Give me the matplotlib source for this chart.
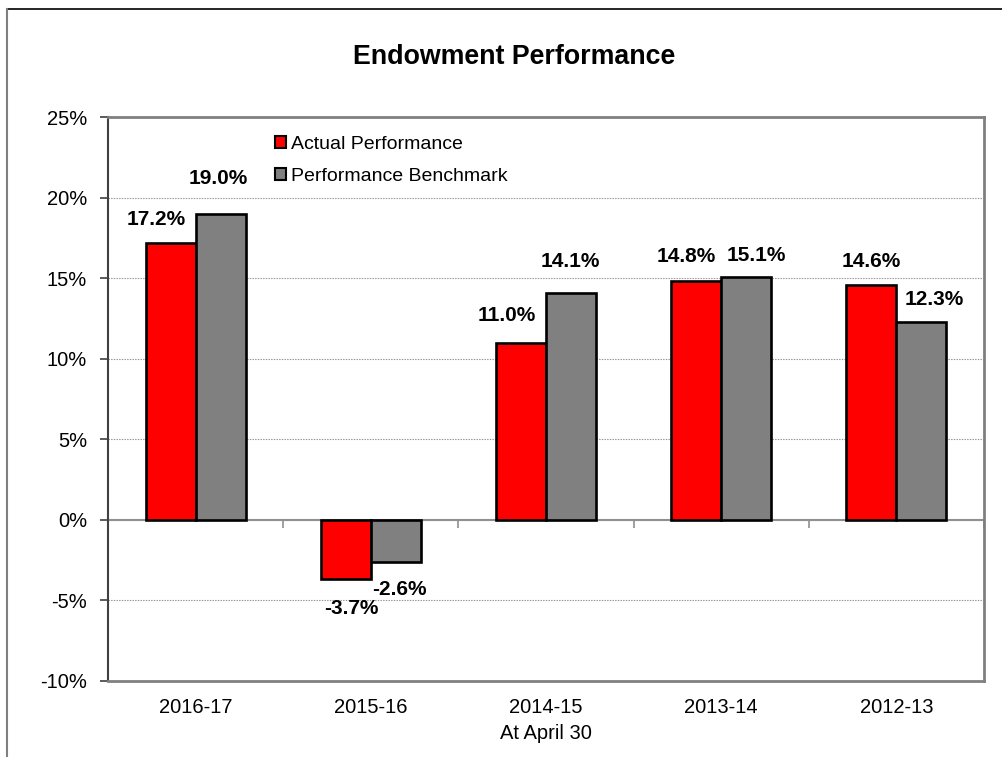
import matplotlib.pyplot as plt
from matplotlib.lines import Line2D
import numpy as np

plt.rcParams['font.family'] = ['Liberation Sans', 'DejaVu Sans']

# data
years = ["2016-17", "2015-16", "2014-15", "2013-14", "2012-13"]
actual = [17.2, -3.7, 11.0, 14.8, 14.6]
benchmark = [19.0, -2.6, 14.1, 15.1, 12.3]
series_names = ["Actual Performance", "Performance Benchmark"]

# hand-placed label nudges (pixels), as in the original chart
actual_offsets = [(-14, 23), (5, -29), (-14, 27), (-10, 25), (0, 23)]
bench_offsets = [(-2, 35), (4, -28), (-1, 31), (10, 21), (13, 22)]

fig = plt.figure(figsize=(10.03, 7.57), dpi=100)
ax = fig.add_axes([108 / 1003, 1 - 681 / 757, 876 / 1003, 564 / 757])

x = np.arange(len(years))
w = 0.285
b1 = ax.bar(x - w / 2, actual, w, color="#FF0000", edgecolor="black",
            linewidth=1.9, label=series_names[0], zorder=3)
b2 = ax.bar(x + w / 2, benchmark, w, color="#808080", edgecolor="black",
            linewidth=1.9, label=series_names[1], zorder=3)

for bars, vals, offs in [(b1, actual, actual_offsets), (b2, benchmark, bench_offsets)]:
    for bar, v, (dx, dy) in zip(bars, vals, offs):
        ax.annotate(f"{v:.1f}%", (bar.get_x() + bar.get_width() / 2, v),
                    xytext=(dx, dy), textcoords="offset pixels",
                    ha="center", va="center", fontsize=15, fontweight="bold")

ax.set_xlim(-0.5, len(years) - 0.5)
ax.set_ylim(-10, 25)
ax.set_yticks(np.arange(-10, 26, 5))
ax.set_yticklabels([f"{t}%" for t in range(-10, 26, 5)])
ax.set_xticks(x)
ax.set_xticklabels(years)
ax.tick_params(axis="x", length=0, pad=12, labelsize=14.5)
ax.tick_params(axis="y", length=6, width=1.2, color="#404040", pad=9, labelsize=14.5)
ax.grid(axis="y", color="#909090", linestyle=(0, (1.2, 1.2)), linewidth=0.8, zorder=0)

for side in ["top", "right", "bottom"]:
    ax.spines[side].set_color("#808080")
    ax.spines[side].set_linewidth(2)
ax.spines["left"].set_color("#404040")
ax.spines["left"].set_linewidth(1.5)

# zero line with category-boundary ticks
sec = ax.secondary_xaxis(10 / 35)
sec.set_xticks(np.arange(len(years) + 1) - 0.5)
sec.set_xticklabels([])
sec.tick_params(length=6, width=1.2, color="#909090", direction="out")
sec.spines["bottom"].set_color("#909090")
sec.spines["bottom"].set_linewidth(1.5)

ax.set_xlabel("At April 30", fontsize=14.5, labelpad=5)

leg = ax.legend(loc="upper left", bbox_to_anchor=((275 - 108) / 876, (681 - 136) / 564),
                frameon=False, fontsize=14, handlelength=0.55, handleheight=0.55,
                handletextpad=0.25, labelspacing=0.75, borderpad=0, borderaxespad=0)
for h in leg.legend_handles:
    h.set_linewidth(1.5)

fig.text(514.5 / 1003, 1 - 57 / 757, "Endowment Performance", ha="center", va="center",
         fontsize=19.3, fontweight="bold")

# outer frame pieces
fig.add_artist(Line2D([7 / 1003, 1], [1 - 9 / 757, 1 - 9 / 757], color="black",
                      linewidth=1.2, transform=fig.transFigure))
fig.add_artist(Line2D([7 / 1003, 7 / 1003], [0, 1 - 9 / 757], color="#808080",
                      linewidth=1.5, transform=fig.transFigure))

fig.savefig("out.png", dpi=100)
